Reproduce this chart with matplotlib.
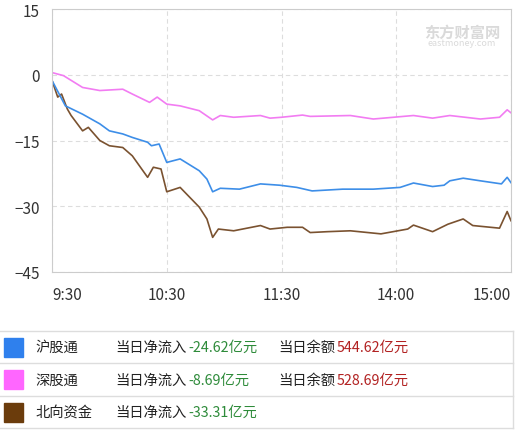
import matplotlib
matplotlib.use("Agg")
import matplotlib.pyplot as plt
from matplotlib.patches import Rectangle

plt.rcParams['font.family'] = ['Noto Sans CJK SC', 'DejaVu Sans']

# minutes since 9:30 (trading minutes, lunch break removed)
tick_pos = [0, 60, 120, 180, 240]
tick_labels = ["9:30", "10:30", "11:30", "14:00", "15:00"]
y_ticks = [15, 0, -15, -30, -45]

# 深股通
sz_t = [0, 6, 16, 25, 37, 42, 51, 55, 60, 67, 77, 84, 88, 95, 109, 114, 120, 131, 135,
        156, 168, 189, 199, 208, 224, 234, 238, 240]
sz_v = [0.5, -0.2, -2.9, -3.6, -3.3, -4.4, -6.3, -5.1, -6.7, -7.1, -8.2, -10.3, -9.3, -9.7,
        -9.3, -9.9, -9.7, -9.2, -9.5, -9.3, -10.1, -9.3, -9.9, -9.3, -10.1, -9.7, -8.0, -8.69]

# 沪股通
sh_t = [0, 7, 16, 25, 30, 37, 42, 50, 52, 56, 60, 67, 77, 81, 84, 88, 98, 109, 119, 128,
        136, 152, 168, 182, 189, 199, 205, 208, 215, 224, 235, 238, 240]
sh_v = [-1.3, -7.1, -9.0, -11.2, -12.8, -13.5, -14.3, -15.4, -16.2, -15.8, -20.0, -19.2,
        -21.9, -23.8, -26.7, -25.9, -26.1, -24.9, -25.2, -25.7, -26.5, -26.1, -26.1, -25.7,
        -24.7, -25.5, -25.2, -24.2, -23.6, -24.2, -24.9, -23.4, -24.62]

# 北向资金
nb_t = [0, 3, 5, 8, 10, 16, 19, 25, 30, 37, 42, 50, 53, 57, 60, 67, 77, 81, 84, 87, 95,
        109, 114, 123, 131, 135, 144, 156, 172, 186, 189, 199, 207, 215, 220, 234, 238, 240]
nb_v = [-1.3, -5.1, -4.4, -7.8, -9.3, -12.8, -12.0, -15.0, -16.2, -16.6, -18.5, -23.4,
        -21.1, -21.5, -26.7, -25.7, -30.2, -32.9, -37.1, -35.2, -35.6, -34.4, -35.2, -34.8,
        -34.8, -36.0, -35.8, -35.6, -36.3, -35.2, -34.3, -35.8, -34.1, -32.9, -34.4, -35.0,
        -31.2, -33.31]

names = ["沪股通", "深股通", "北向资金"]
net_flow = ["-24.62亿元", "-8.69亿元", "-33.31亿元"]
balance = ["544.62亿元", "528.69亿元", None]
box_colors = ["#2f80ed", "#ff66ff", "#6b3c0c"]
line_colors = ["#3d8ee8", "#f27cf2", "#7a5230"]

fig = plt.figure(figsize=(5.3, 4.35), dpi=100)
ax = fig.add_axes([52 / 530, 1 - 273 / 435, 459 / 530, 263 / 435])

ax.plot(sz_t, sz_v, color=line_colors[1], lw=1.2)
ax.plot(nb_t, nb_v, color=line_colors[2], lw=1.2)
ax.plot(sh_t, sh_v, color=line_colors[0], lw=1.2)

ax.set_xlim(0, 240)
ax.set_ylim(-45, 15)
ax.set_yticks(y_ticks)
ax.set_xticks(tick_pos)
ax.set_xticklabels(tick_labels)
ax.grid(True, color="#dddddd", linestyle=(0, (4, 3)), lw=0.8)
for s in ax.spines.values():
    s.set_color("#cccccc")
ax.tick_params(length=0, labelsize=11, colors="#333333")
ax.tick_params(axis="x", pad=10)
ax.tick_params(axis="y", pad=9)
xl = ax.get_xticklabels()
xl[0].set_ha("left")
xl[-1].set_ha("right")

# watermark
ax.text(0.893, 0.915, "东方财富网", transform=ax.transAxes, fontsize=11,
        color="#dadada", ha="center", va="center", fontweight="bold")
ax.text(0.893, 0.872, "eastmoney.com", transform=ax.transAxes, fontsize=6.5,
        color="#dadada", ha="center", va="center")

# legend table in pixel coordinates
tax = fig.add_axes([0, 0, 1, 1])
tax.set_xlim(0, 530)
tax.set_ylim(435, 0)
tax.axis("off")
rows = [332, 364, 397, 429]
for y in rows:
    tax.plot([0, 513], [y, y], color="#dddddd", lw=1)
tax.plot([513, 513], [rows[0], rows[-1]], color="#dddddd", lw=1)

fs = 10.3
for i in range(3):
    yc = (rows[i] + rows[i + 1]) / 2
    tax.add_patch(Rectangle((4, yc - 9.5), 19, 19, color=box_colors[i]))
    tax.text(35, yc, names[i], fontsize=fs, va="center", color="#222222")
    tax.text(115, yc, "当日净流入", fontsize=fs, va="center", color="#222222")
    tax.text(188, yc, net_flow[i], fontsize=fs, va="center", color="#2e8b3a")
    if balance[i]:
        tax.text(278, yc, "当日余额", fontsize=fs, va="center", color="#222222")
        tax.text(337, yc, balance[i], fontsize=fs, va="center", color="#b22222")

fig.savefig("out.png", dpi=100)
